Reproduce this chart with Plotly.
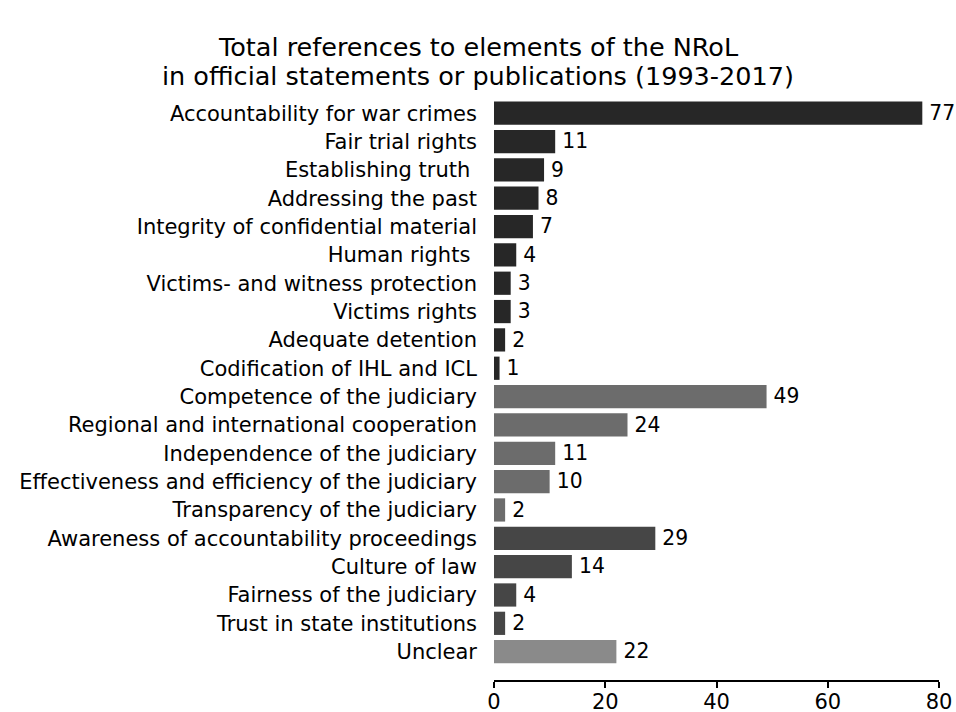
import plotly.graph_objects as go

categories = [
    "Accountability for war crimes", "Fair trial rights", "Establishing truth ",
    "Addressing the past", "Integrity of confidential material", "Human rights ",
    "Victims- and witness protection", "Victims rights", "Adequate detention",
    "Codification of IHL and ICL", "Competence of the judiciary",
    "Regional and international cooperation", "Independence of the judiciary",
    "Effectiveness and efficiency of the judiciary", "Transparency of the judiciary",
    "Awareness of accountability proceedings", "Culture of law",
    "Fairness of the judiciary", "Trust in state institutions", "Unclear",
]
values = [77, 11, 9, 8, 7, 4, 3, 3, 2, 1, 49, 24, 11, 10, 2, 29, 14, 4, 2, 22]
groups = [0]*10 + [1]*5 + [2]*4 + [3]
group_colors = ["#272727", "#6c6c6c", "#464646", "#8a8a8a"]
x_ticks = [0, 20, 40, 60, 80]
title_lines = ["Total references to elements of the NRoL",
               "in official statements or publications (1993-2017)"]

colors = [group_colors[g] for g in groups]

PL, PR, PT, PB = 494, 939, 99, 680  # plot area in screen pixels
W, H = 956, 712

fig = go.Figure(go.Bar(
    x=values, y=categories, orientation="h",
    marker=dict(color=colors, line=dict(width=0)),
    width=0.82,
    text=["\u2009" + str(v) for v in values], textposition="outside",
    textfont=dict(size=21, color="black"),
    cliponaxis=False,
))

fig.update_layout(
    width=W, height=H,
    paper_bgcolor="white", plot_bgcolor="white",
    font=dict(family="DejaVu Sans", size=21, color="black"),
    margin=dict(l=PL, r=W - PR, t=PT, b=H - PB),
    showlegend=False,
)
for i, line in enumerate(title_lines):
    fig.add_annotation(text=line, xref="paper", yref="paper",
                       x=(478 - PL) / (PR - PL), xanchor="center",
                       y=1 + (PT - (47 + 29 * i)) / (PB - PT), yanchor="middle",
                       showarrow=False, font=dict(size=25.5, color="black"))

fig.update_xaxes(range=[0, 80], tickvals=x_ticks, showgrid=False, zeroline=False,
                 showline=True, linecolor="black", linewidth=2,
                 ticks="outside", ticklen=6, tickwidth=2, tickcolor="black",
                 ticklabelstandoff=-4,
                 tickfont=dict(size=21), automargin=False)
fig.update_yaxes(categoryorder="array", categoryarray=categories,
                 range=[20, -0.5], showgrid=False, zeroline=False, showline=False,
                 ticks="", ticklabelstandoff=16, tickfont=dict(size=21),
                 automargin=False)

fig.write_html("out.html", config={"displayModeBar": False},
               post_script="document.body.style.margin='0';document.body.style.overflow='hidden';")
